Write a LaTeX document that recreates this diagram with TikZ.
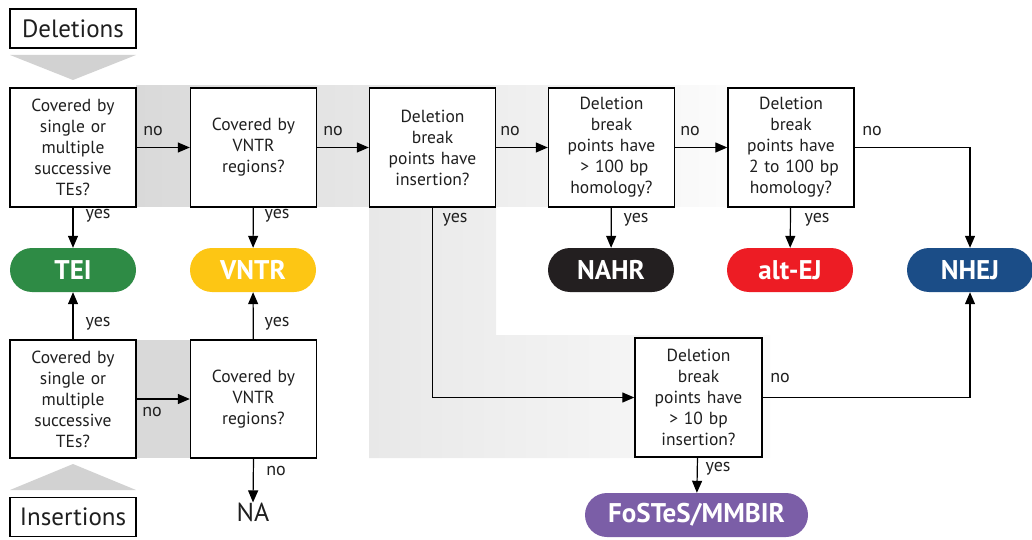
\documentclass[tikz,border=0pt]{standalone}
\usepackage{fontspec}
\setmainfont{PT Sans}
\usetikzlibrary{arrows.meta,positioning}
\definecolor{teigreen}{HTML}{2E8B45}
\definecolor{vntryellow}{HTML}{FDC614}
\definecolor{nahrblack}{HTML}{231F20}
\definecolor{altred}{HTML}{ED1C24}
\definecolor{nhejblue}{HTML}{1B4D87}
\definecolor{fospurple}{HTML}{7B5EA7}
\definecolor{bandgray}{HTML}{D9D9D9}
\tikzset{
  qbox/.style={draw=black, line width=1.4pt, fill=white, minimum width=126pt, minimum height=119pt, inner sep=2pt, align=center, text width=118pt, font=\fontsize{17.5}{21}\selectfont, text=black!88},
  pill/.style={rounded corners=22pt, minimum width=126pt, minimum height=44pt, inner sep=0pt, text=white, font=\fontsize{27}{28}\selectfont\bfseries},
  titlebox/.style={draw=black, line width=1.2pt, fill=white, minimum width=126pt, minimum height=39pt, inner sep=0pt, font=\fontsize{25}{26}\selectfont, text=black!88},
  arr/.style={line width=1.2pt, -{Triangle[width=10pt,length=12pt]}},
  lab/.style={font=\fontsize{18}{20}\selectfont, text=black!88, inner sep=0pt}
}
\begin{document}
\begin{tikzpicture}[x=1pt,y=-1pt]
\useasboundingbox (0,0) rectangle (1032,540);
% background bands
\shade[left color=bandgray, right color=gray!3] (136,86) rectangle (727,206);
\shade[left color=gray!18, right color=gray!3] (369,206) -- (496,206) -- (496,335) -- (770,335) -- (770,458) -- (369,458) -- cycle;
\fill[bandgray] (136,340) rectangle (190,458);
% triangles
\fill[gray!35] (10,55) -- (136,55) -- (73,80) -- cycle;
\fill[gray!35] (10,490) -- (136,490) -- (73,464) -- cycle;
% title boxes
\node[titlebox] (del) at (73,28.5) {Deletions};
\node[titlebox] (ins) at (73,517) {Insertions};
% question boxes
\node[qbox] (b1) at (73,147.5) {Covered by\\ single or\\ multiple\\ successive\\ TEs?};
\node[qbox] (b2) at (253.5,147.5) {Covered by\\ VNTR\\ regions?};
\node[qbox] (b3) at (432.5,147.5) {Deletion\\ break\\ points have\\ insertion?};
\node[qbox] (b4) at (611.5,147.5) {Deletion\\ break\\ points have\\ \,\,> 100 bp\\ homology?};
\node[qbox] (b5) at (791,147.5) {Deletion\\ break\\ points have\\ \,\,2 to 100 bp\\ homology?};
\node[qbox, minimum height=118pt] (b7) at (73,399) {Covered by\\ single or\\ multiple\\ successive\\ TEs?};
\node[qbox, minimum height=118pt] (b8) at (253.5,399) {Covered by\\ VNTR\\ regions?};
\node[qbox, minimum width=127pt] (b6) at (698.5,397.5) {Deletion\\ break\\ points have\\ > 10 bp\\ insertion?};
% pills
\node[pill, fill=teigreen] (tei) at (73,270) {TEI};
\node[pill, fill=vntryellow] (vntr) at (253,270) {VNTR};
\node[pill, fill=nahrblack] (nahr) at (611,270) {NAHR};
\node[pill, fill=altred] (altej) at (790,270) {alt-EJ};
\node[pill, fill=nhejblue] (nhej) at (970,270) {NHEJ};
\node[pill, fill=fospurple, minimum width=223pt] (fos) at (696.5,515) {FoSTeS/MMBIR};
\node[font=\fontsize{26}{28}\selectfont, text=black!88, inner sep=0pt] (na) at (253,512) {NA};
% connectors
\draw[arr] (b1) -- (b2);
\draw[arr] (b2) -- (b3);
\draw[arr] (b3) -- (b4);
\draw[arr] (b4) -- (b5);
\draw[arr] (b5.east) -| (nhej.north);
\draw[arr] (b1) -- (tei);
\draw[arr] (b2) -- (vntr);
\draw[arr] (b4) -- (nahr);
\draw[arr] (b5) -- (altej);
\draw[arr] (b3.south) |- (b6.west);
\draw[arr] (b6.east) -| (nhej.south);
\draw[arr] (b6) -- (fos);
\draw[arr] (b7) -- (tei);
\draw[arr] (b8) -- (vntr);
\draw[arr] (b7) -- (b8);
\draw[arr] (b8.south) -- (na.north);
% labels
\node[lab] at (153,131) {no};
\node[lab] at (333,131) {no};
\node[lab] at (510,131) {no};
\node[lab] at (690,131) {no};
\node[lab] at (872,131) {no};
\node[lab] at (98,216) {yes};
\node[lab] at (277,216) {yes};
\node[lab] at (455,220) {yes};
\node[lab] at (636,220) {yes};
\node[lab] at (817,220) {yes};
\node[lab] at (98,324) {yes};
\node[lab] at (277,324) {yes};
\node[lab] at (152,412) {no};
\node[lab] at (276,471) {no};
\node[lab] at (718,469) {yes};
\node[lab] at (780,378) {no};
\end{tikzpicture}
\end{document}
